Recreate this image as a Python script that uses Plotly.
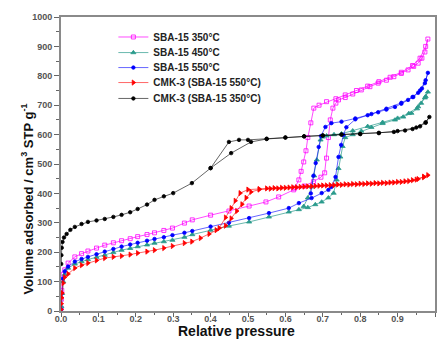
import plotly.graph_objects as go

# ---------------- data ----------------
series_names = ["SBA-15 350\u00b0C", "SBA-15 450\u00b0C", "SBA-15 550\u00b0C",
                "CMK-3 (SBA-15 550\u00b0C)", "CMK-3 (SBA-15 350\u00b0C)"]

# SBA-15 350°C (magenta)
m_ads_x = [0.0005, 0.001, 0.002, 0.003, 0.006, 0.01, 0.019, 0.037, 0.055, 0.072, 0.095, 0.117, 0.14, 0.162,
           0.185, 0.205, 0.23, 0.25, 0.275, 0.298, 0.33, 0.351, 0.40, 0.449, 0.503, 0.548, 0.582, 0.622, 0.65,
           0.675, 0.695, 0.705, 0.71, 0.715, 0.72, 0.727, 0.735, 0.742, 0.76, 0.78, 0.803, 0.826, 0.848, 0.87,
           0.89, 0.91, 0.928, 0.943, 0.955, 0.965, 0.973, 0.981]
m_ads_y = [10, 40, 70, 105, 125, 140, 163, 184, 195, 204, 214, 224, 232, 239, 246, 253, 260, 266, 274, 282,
           299, 310, 326, 340, 357, 371, 388, 412, 425, 440, 455, 470, 520, 590, 650, 690, 707, 718, 726, 738,
           752, 763, 775, 785, 797, 808, 820, 832, 843, 860, 881, 925]
m_des_x = [0.975, 0.96, 0.94, 0.91, 0.88, 0.85, 0.82, 0.79, 0.76, 0.735, 0.71, 0.69, 0.676, 0.668, 0.66,
           0.655, 0.649, 0.642, 0.636, 0.625]
m_des_y = [900, 860, 835, 812, 795, 780, 765, 750, 735, 722, 712, 700, 690, 640, 590, 545, 507, 475, 446, 418]

# SBA-15 450°C (teal)
t_ads_x = [0.001, 0.003, 0.006, 0.01, 0.019, 0.037, 0.055, 0.072, 0.095, 0.117, 0.14, 0.162, 0.185, 0.205,
           0.23, 0.25, 0.275, 0.298, 0.33, 0.351, 0.40, 0.449, 0.503, 0.556, 0.609, 0.636, 0.66, 0.68, 0.697,
           0.715, 0.729, 0.737, 0.742, 0.747, 0.753, 0.76, 0.78, 0.803, 0.83, 0.86, 0.893, 0.915, 0.937, 0.952,
           0.963, 0.973, 0.981]
t_ads_y = [15, 60, 100, 125, 146, 160, 168, 175, 183, 190, 199, 207, 213, 219, 225, 231, 236, 241, 251, 260,
           275, 289, 303, 320, 337, 345, 352, 362, 371, 385, 401, 446, 485, 524, 560, 590, 600, 612, 625, 638,
           650, 660, 673, 688, 707, 725, 745]
t_des_x = [0.975, 0.955, 0.93, 0.90, 0.86, 0.82, 0.78, 0.75, 0.73, 0.71, 0.70, 0.694, 0.684, 0.677, 0.67,
           0.66, 0.649]
t_des_y = [730, 695, 672, 656, 642, 628, 613, 603, 600, 596, 592, 582, 514, 460, 422, 385, 356]

# SBA-15 550°C (blue)
b_ads_x = [0.0005, 0.002, 0.005, 0.01, 0.019, 0.037, 0.055, 0.072, 0.095, 0.117, 0.14, 0.162, 0.185, 0.205,
           0.23, 0.25, 0.275, 0.298, 0.33, 0.351, 0.40, 0.449, 0.503, 0.556, 0.609, 0.636, 0.67, 0.697, 0.715,
           0.723, 0.734, 0.742, 0.749, 0.755, 0.763, 0.787, 0.82, 0.848, 0.87, 0.893, 0.91, 0.928, 0.942, 0.955,
           0.965, 0.973, 0.981]
b_ads_y = [5, 60, 110, 135, 151, 168, 177, 184, 193, 202, 211, 219, 226, 232, 239, 245, 251, 258, 266, 272,
           287, 300, 316, 333, 350, 367, 384, 401, 412, 422, 456, 524, 565, 599, 625, 652, 666, 676, 685, 694,
           705, 718, 728, 742, 757, 775, 810]
b_des_x = [0.975, 0.96, 0.94, 0.91, 0.87, 0.83, 0.787, 0.75, 0.723, 0.707, 0.695, 0.689, 0.681, 0.675, 0.668]
b_des_y = [785, 750, 728, 708, 688, 670, 655, 644, 639, 626, 595, 558, 503, 460, 400]

# CMK-3 (SBA-15 550°C) (red)
r_ads_x = [0.0005, 0.001, 0.002, 0.003, 0.006, 0.01, 0.019, 0.037, 0.055, 0.072, 0.095, 0.117, 0.14, 0.162,
           0.185, 0.205, 0.23, 0.25, 0.275, 0.298, 0.33, 0.35, 0.373, 0.396, 0.415, 0.44, 0.455, 0.47, 0.484,
           0.495, 0.508, 0.53, 0.56, 0.58, 0.60, 0.62, 0.64, 0.66, 0.68, 0.70, 0.72, 0.74, 0.76, 0.78, 0.80,
           0.82, 0.84, 0.86, 0.88, 0.90, 0.92, 0.94, 0.955, 0.97, 0.981]
r_ads_y = [5, 25, 45, 61, 95, 115, 126, 146, 156, 163, 172, 180, 184, 187, 192, 197, 202, 207, 214, 221, 231,
           236, 248, 262, 275, 290, 315, 340, 363, 385, 405, 413, 416, 417, 419, 421, 422, 424, 425, 427, 428,
           430, 431, 432, 433, 434, 435, 436, 437, 439, 441, 445, 449, 455, 462]
r_des_x = [0.97, 0.95, 0.93, 0.91, 0.89, 0.87, 0.85, 0.83, 0.81, 0.79, 0.77, 0.75, 0.73, 0.71, 0.69, 0.67,
           0.65, 0.63, 0.61, 0.59, 0.57, 0.55, 0.53, 0.50, 0.479, 0.466, 0.455, 0.44, 0.423]
r_des_y = [457, 447, 442, 439, 437, 435, 434, 433, 432, 431, 430, 429, 428, 427, 426, 424, 423, 421, 420, 419,
           418, 417, 415, 413, 401, 375, 350, 318, 282]

# CMK-3 (SBA-15 350°C) (black)
k_ads_x = [0.0005, 0.001, 0.002, 0.004, 0.008, 0.015, 0.025, 0.037, 0.055, 0.072, 0.095, 0.117, 0.14, 0.162,
           0.185, 0.205, 0.23, 0.25, 0.275, 0.30, 0.35, 0.40, 0.455, 0.508, 0.55, 0.60, 0.65, 0.70, 0.75, 0.80,
           0.85, 0.89, 0.92, 0.94, 0.96, 0.975, 0.985]
k_ads_y = [160, 190, 215, 235, 250, 262, 276, 286, 296, 303, 308, 313, 320, 327, 336, 347, 362, 378, 390, 401,
           435, 486, 537, 575, 585, 590, 594, 597, 600, 602, 605, 609, 614, 619, 628, 640, 660]
k_des_x = [0.975, 0.95, 0.90, 0.85, 0.80, 0.75, 0.70, 0.65, 0.60, 0.55, 0.50, 0.476, 0.449, 0.40]
k_des_y = [642, 624, 612, 606, 602, 600, 597, 594, 590, 586, 582, 582, 575, 486]

series_x = [m_ads_x + m_des_x, t_ads_x + t_des_x, b_ads_x + b_des_x, r_ads_x + r_des_x, k_ads_x + k_des_x]
series_y = [m_ads_y + m_des_y, t_ads_y + t_des_y, b_ads_y + b_des_y, r_ads_y + r_des_y, k_ads_y + k_des_y]

colors = ["#ff00ff", "#2a9a8c", "#0000ff", "#ff0000", "#000000"]
line_colors = ["rgba(255,0,255,0.7)", "rgba(42,154,140,0.7)", "rgba(0,0,255,0.6)", "rgba(255,0,0,0.6)",
               "rgba(0,0,0,0.6)"]
symbols = ["square-open", "triangle-up", "circle", "triangle-right", "circle"]
sizes = [4, 4.5, 3.5, 4.5, 3.5]

x_ticks = [0.0, 0.1, 0.2, 0.3, 0.4, 0.5, 0.6, 0.7, 0.8, 0.9, 1.0]
x_ticklabels = ["0.0", "0.1", "0.2", "0.3", "0.4", "0.5", "0.6", "0.7", "0.8", "0.9", "1.0"]
y_ticks = [0, 100, 200, 300, 400, 500, 600, 700, 800, 900, 1000]

# ---------------- figure ----------------
font_family = "Liberation Sans, Arial, sans-serif"
legend_ids = ["legend", "legend2", "legend3", "legend4", "legend5"]
legend_rows_y = [0.932, 0.879, 0.828, 0.777, 0.723]

fig = go.Figure()
for name, xs, ys, c, lc, s, sz, lg in zip(series_names, series_x, series_y, colors, line_colors,
                                          symbols, sizes, legend_ids):
    fig.add_trace(go.Scatter(
        x=xs, y=ys, name=name, mode="lines+markers", legend=lg,
        line=dict(color=lc, width=1),
        marker=dict(symbol=s, size=sz, color=c, line=dict(color=c, width=0.8)),
    ))

legend_style = dict(x=0.14, xanchor="left", yanchor="middle", bgcolor="rgba(0,0,0,0)", borderwidth=0,
                    font=dict(size=10, family=font_family, color="#222", weight="bold"),
                    itemwidth=30)
legends = {lg: dict(legend_style, y=yy) for lg, yy in zip(legend_ids, legend_rows_y)}

fig.update_layout(
    width=439, height=345,
    margin=dict(l=61, r=2, t=17, b=34),
    paper_bgcolor="white", plot_bgcolor="white",
    font=dict(family=font_family, color="#222"),
    showlegend=True,
    **legends,
    xaxis=dict(range=[0, 1.0], tickvals=x_ticks, ticktext=x_ticklabels,
               showgrid=False, zeroline=False, showline=True, linecolor="#8a8a8a", linewidth=2,
               mirror=True, ticks="outside", ticklen=4, tickcolor="#666", tickwidth=1,
               ticklabelstandoff=-6,
               tickfont=dict(size=9, color="#555", weight="bold"),
               minor=dict(dtick=0.05, ticks="outside", ticklen=2, tickcolor="#666")),
    yaxis=dict(range=[0, 1000], tickvals=y_ticks,
               showgrid=False, zeroline=False, showline=True, linecolor="#8a8a8a", linewidth=2,
               mirror=True, ticks="outside", ticklen=5, tickcolor="#666", tickwidth=1,
               tickfont=dict(size=9, color="#555", weight="bold"),
               minor=dict(dtick=50, ticks="outside", ticklen=3, tickcolor="#666")),
    annotations=[
        dict(text="Relative pressure", xref="paper", yref="paper", x=0.468, y=-0.068,
             xanchor="center", yanchor="middle", showarrow=False,
             font=dict(size=14, color="#111", weight="bold")),
        dict(text="Volume adsorbed / cm<sup>3</sup> STP g<sup>-1</sup>", xref="paper", yref="paper",
             x=-0.09, y=0.38, xanchor="center", yanchor="middle", textangle=-90, showarrow=False,
             font=dict(size=13, color="#111", weight="bold")),
    ],
)

fig.write_html("out.html", config={"displayModeBar": False},
               post_script="document.body.style.margin='0';document.body.style.padding='0';")
